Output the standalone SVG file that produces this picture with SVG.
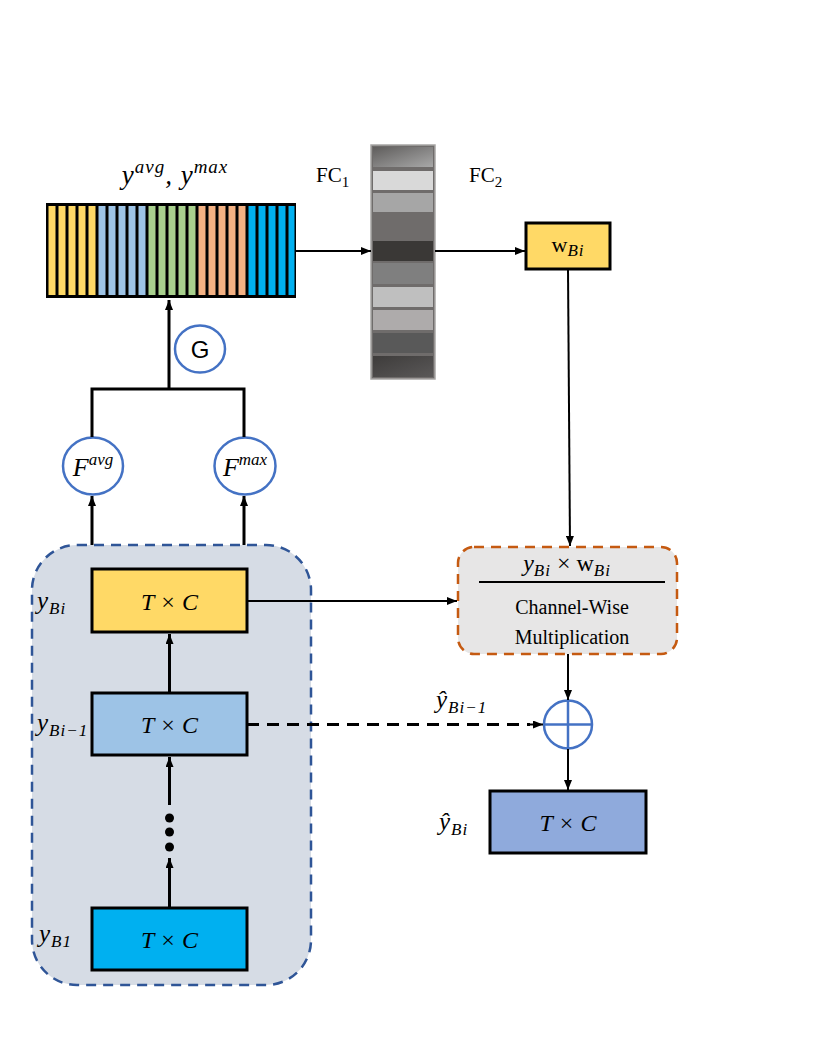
<svg xmlns="http://www.w3.org/2000/svg" width="830" height="1047" viewBox="0 0 830 1047">
<defs>
<marker id="ah" viewBox="0 0 10 8" refX="10" refY="4" markerWidth="10" markerHeight="8" markerUnits="userSpaceOnUse" orient="auto">
<path d="M0,0 L10,4 L0,8 Z" fill="#000"/>
</marker>
<linearGradient id="g1" x1="0" y1="0" x2="1" y2="1"><stop offset="0" stop-color="#5f5d5c"/><stop offset="1" stop-color="#a8a8a8"/></linearGradient>
<linearGradient id="g2" x1="0" y1="0" x2="1" y2="1"><stop offset="0" stop-color="#3e3c3b"/><stop offset="1" stop-color="#5a5858"/></linearGradient>
<style>
.m{font-family:"Liberation Serif",serif;font-style:italic;fill:#000}
.r{font-family:"Liberation Serif",serif;fill:#000}
.s{letter-spacing:1px}
.box{stroke:#000;stroke-width:3}
.circ{fill:#fff;stroke:#4472C4;stroke-width:2.5}
.ln{stroke:#000;stroke-width:2;fill:none}
.lnb{stroke:#000;stroke-width:3;fill:none}
</style>
</defs>

<g id="container">
<rect x="32" y="545" width="279" height="440" rx="45" fill="#D6DCE5" stroke="#2F5597" stroke-width="2.5" stroke-dasharray="10,7"/>
</g>

<g id="strip">
<rect x="46" y="203" width="250" height="95" fill="#000"/>
<g fill="#FFD966"><rect x="48.5" y="206" width="7" height="89"/><rect x="58.5" y="206" width="7" height="89"/><rect x="68.5" y="206" width="7" height="89"/><rect x="78.5" y="206" width="7" height="89"/><rect x="88.5" y="206" width="7" height="89"/></g>
<g fill="#9DC3E6"><rect x="98.5" y="206" width="7" height="89"/><rect x="108.5" y="206" width="7" height="89"/><rect x="118.5" y="206" width="7" height="89"/><rect x="128.5" y="206" width="7" height="89"/><rect x="138.5" y="206" width="7" height="89"/></g>
<g fill="#A9D18E"><rect x="148.5" y="206" width="7" height="89"/><rect x="158.5" y="206" width="7" height="89"/><rect x="168.5" y="206" width="7" height="89"/><rect x="178.5" y="206" width="7" height="89"/><rect x="188.5" y="206" width="7" height="89"/></g>
<g fill="#F4B183"><rect x="198.5" y="206" width="7" height="89"/><rect x="208.5" y="206" width="7" height="89"/><rect x="218.5" y="206" width="7" height="89"/><rect x="228.5" y="206" width="7" height="89"/><rect x="238.5" y="206" width="7" height="89"/></g>
<g fill="#00B0F0"><rect x="248.5" y="206" width="7" height="89"/><rect x="258.5" y="206" width="7" height="89"/><rect x="268.5" y="206" width="7" height="89"/><rect x="278.5" y="206" width="7" height="89"/><rect x="288.5" y="206" width="6" height="89"/></g>
<text class="m s" x="175" y="184" font-size="27" text-anchor="middle">y<tspan font-size="19" dy="-11">avg</tspan><tspan dy="11">,  y</tspan><tspan font-size="19" dy="-11">max</tspan></text>
</g>

<g id="fc">
<rect x="371" y="145" width="64" height="234" fill="#6f6c6b" stroke="#a8a6a5" stroke-width="1.5"/>
<rect x="373" y="147" width="60" height="20" fill="url(#g1)"/>
<rect x="373" y="171" width="60" height="19" fill="#d9d9d9"/>
<rect x="373" y="193" width="60" height="19" fill="#a6a6a6"/>
<rect x="373" y="215" width="60" height="25" fill="#6f6c6b"/>
<rect x="373" y="241" width="60" height="20" fill="#3a3836"/>
<rect x="373" y="263" width="60" height="21" fill="#7f7f7f"/>
<rect x="373" y="287" width="60" height="20" fill="#bfbfbf"/>
<rect x="373" y="310" width="60" height="20" fill="#aeabab"/>
<rect x="373" y="333" width="60" height="20" fill="#595959"/>
<rect x="373" y="356" width="60" height="21" fill="url(#g2)"/>
<text class="r" x="316" y="182" font-size="21">FC<tspan font-size="15" dy="5">1</tspan></text>
<text class="r" x="469" y="182" font-size="21">FC<tspan font-size="15" dy="5">2</tspan></text>
</g>

<g id="wBi">
<rect class="box" x="526" y="223" width="84" height="46" fill="#FFD966"/>
<text x="568" y="252" font-size="22" text-anchor="middle"><tspan class="r">w</tspan><tspan class="m s" font-size="17" dy="4">Bi</tspan></text>
</g>

<g id="G">
<ellipse class="circ" cx="200" cy="349" rx="25" ry="23.5"/>
<text x="200" y="358" font-family="Liberation Sans, sans-serif" font-size="24" text-anchor="middle">G</text>
</g>

<g id="Favg">
<ellipse class="circ" cx="93" cy="466" rx="30" ry="28.5"/>
<text class="m" x="93" y="476" font-size="26" text-anchor="middle">F<tspan font-size="17" dy="-11">avg</tspan></text>
</g>
<g id="Fmax">
<ellipse class="circ" cx="245" cy="466" rx="30.5" ry="28.5"/>
<text class="m" x="245" y="476" font-size="26" text-anchor="middle">F<tspan font-size="17" dy="-11">max</tspan></text>
</g>

<g id="yBi">
<rect class="box" x="92" y="569" width="155" height="63" fill="#FFD966"/>
<text class="m" x="169.5" y="610" font-size="24" text-anchor="middle">T × C</text>
<text class="m s" x="37" y="609" font-size="25">y<tspan font-size="17" dy="5">Bi</tspan></text>
</g>
<g id="yBi1">
<rect class="box" x="92" y="693" width="155" height="62" fill="#9DC3E6"/>
<text class="m" x="169.5" y="733" font-size="24" text-anchor="middle">T × C</text>
<text class="m s" x="37" y="731" font-size="25">y<tspan font-size="17" dy="5">Bi−1</tspan></text>
</g>
<g id="yB1">
<rect class="box" x="92" y="908" width="155" height="62" fill="#00B0F0"/>
<text class="m" x="169.5" y="948" font-size="24" text-anchor="middle">T × C</text>
<text class="m s" x="39" y="942" font-size="25">y<tspan font-size="17" dy="5">B1</tspan></text>
</g>
<g id="dots">
<circle cx="169.5" cy="818" r="4.5"/>
<circle cx="169.5" cy="832" r="4.5"/>
<circle cx="169.5" cy="847" r="4.5"/>
</g>

<g id="channel">
<rect x="458" y="547" width="219" height="107" rx="16" fill="#E7E6E6" stroke="#C55A11" stroke-width="2.5" stroke-dasharray="10,7"/>
<text x="567" y="571" font-size="24" text-anchor="middle"><tspan class="m">y</tspan><tspan class="m s" font-size="17" dy="5">Bi</tspan><tspan class="r" dy="-5"> × w</tspan><tspan class="m s" font-size="17" dy="5">Bi</tspan></text>
<line x1="479" y1="582" x2="665" y2="582" stroke="#000" stroke-width="2"/>
<text class="r" x="572" y="614" font-size="20" text-anchor="middle">Channel-Wise</text>
<text class="r" x="572" y="644" font-size="20" text-anchor="middle">Multiplication</text>
</g>

<g id="oplus">
<circle cx="568" cy="724.5" r="24" fill="none" stroke="#4472C4" stroke-width="2.5"/>
<line x1="544" y1="724.5" x2="592" y2="724.5" stroke="#4472C4" stroke-width="2.5"/>
<line x1="568" y1="700.5" x2="568" y2="748.5" stroke="#4472C4" stroke-width="2.5"/>
</g>

<g id="out">
<rect class="box" x="490" y="791" width="156" height="62" fill="#8FAADC"/>
<text class="m" x="568" y="831" font-size="24" text-anchor="middle">T × C</text>
<text class="m s" x="439" y="830" font-size="25">ŷ<tspan font-size="17" dy="5">Bi</tspan></text>
<text class="m s" x="436" y="708" font-size="25">ŷ<tspan font-size="17" dy="5">Bi−1</tspan></text>
</g>

<g id="connectors">
<line class="ln" x1="296" y1="251" x2="371" y2="251" marker-end="url(#ah)"/>
<line class="ln" x1="435" y1="251" x2="525" y2="251" marker-end="url(#ah)"/>
<line class="ln" x1="568" y1="269" x2="570" y2="546" marker-end="url(#ah)"/>
<line class="lnb" x1="169" y1="389" x2="169" y2="300" marker-end="url(#ah)"/>
<polyline class="lnb" points="92,437 92,389 244,389 244,437"/>
<line class="lnb" x1="92" y1="545" x2="92" y2="496" marker-end="url(#ah)"/>
<line class="lnb" x1="244" y1="545" x2="244" y2="496" marker-end="url(#ah)"/>
<line class="ln" x1="247" y1="601" x2="457" y2="601" marker-end="url(#ah)"/>
<line class="lnb" x1="169.5" y1="693" x2="169.5" y2="634" marker-end="url(#ah)"/>
<line class="lnb" x1="169.5" y1="805" x2="169.5" y2="757" marker-end="url(#ah)"/>
<line class="lnb" x1="169.5" y1="908" x2="169.5" y2="858" marker-end="url(#ah)"/>
<line class="lnb" x1="247" y1="724.5" x2="530" y2="724.5" stroke-dasharray="12,8"/>
<line class="ln" x1="530" y1="724.5" x2="543" y2="724.5" marker-end="url(#ah)"/>
<line class="ln" x1="568" y1="654" x2="568" y2="700" marker-end="url(#ah)"/>
<line class="ln" x1="568" y1="749" x2="568" y2="790" marker-end="url(#ah)"/>
</g>
</svg>
